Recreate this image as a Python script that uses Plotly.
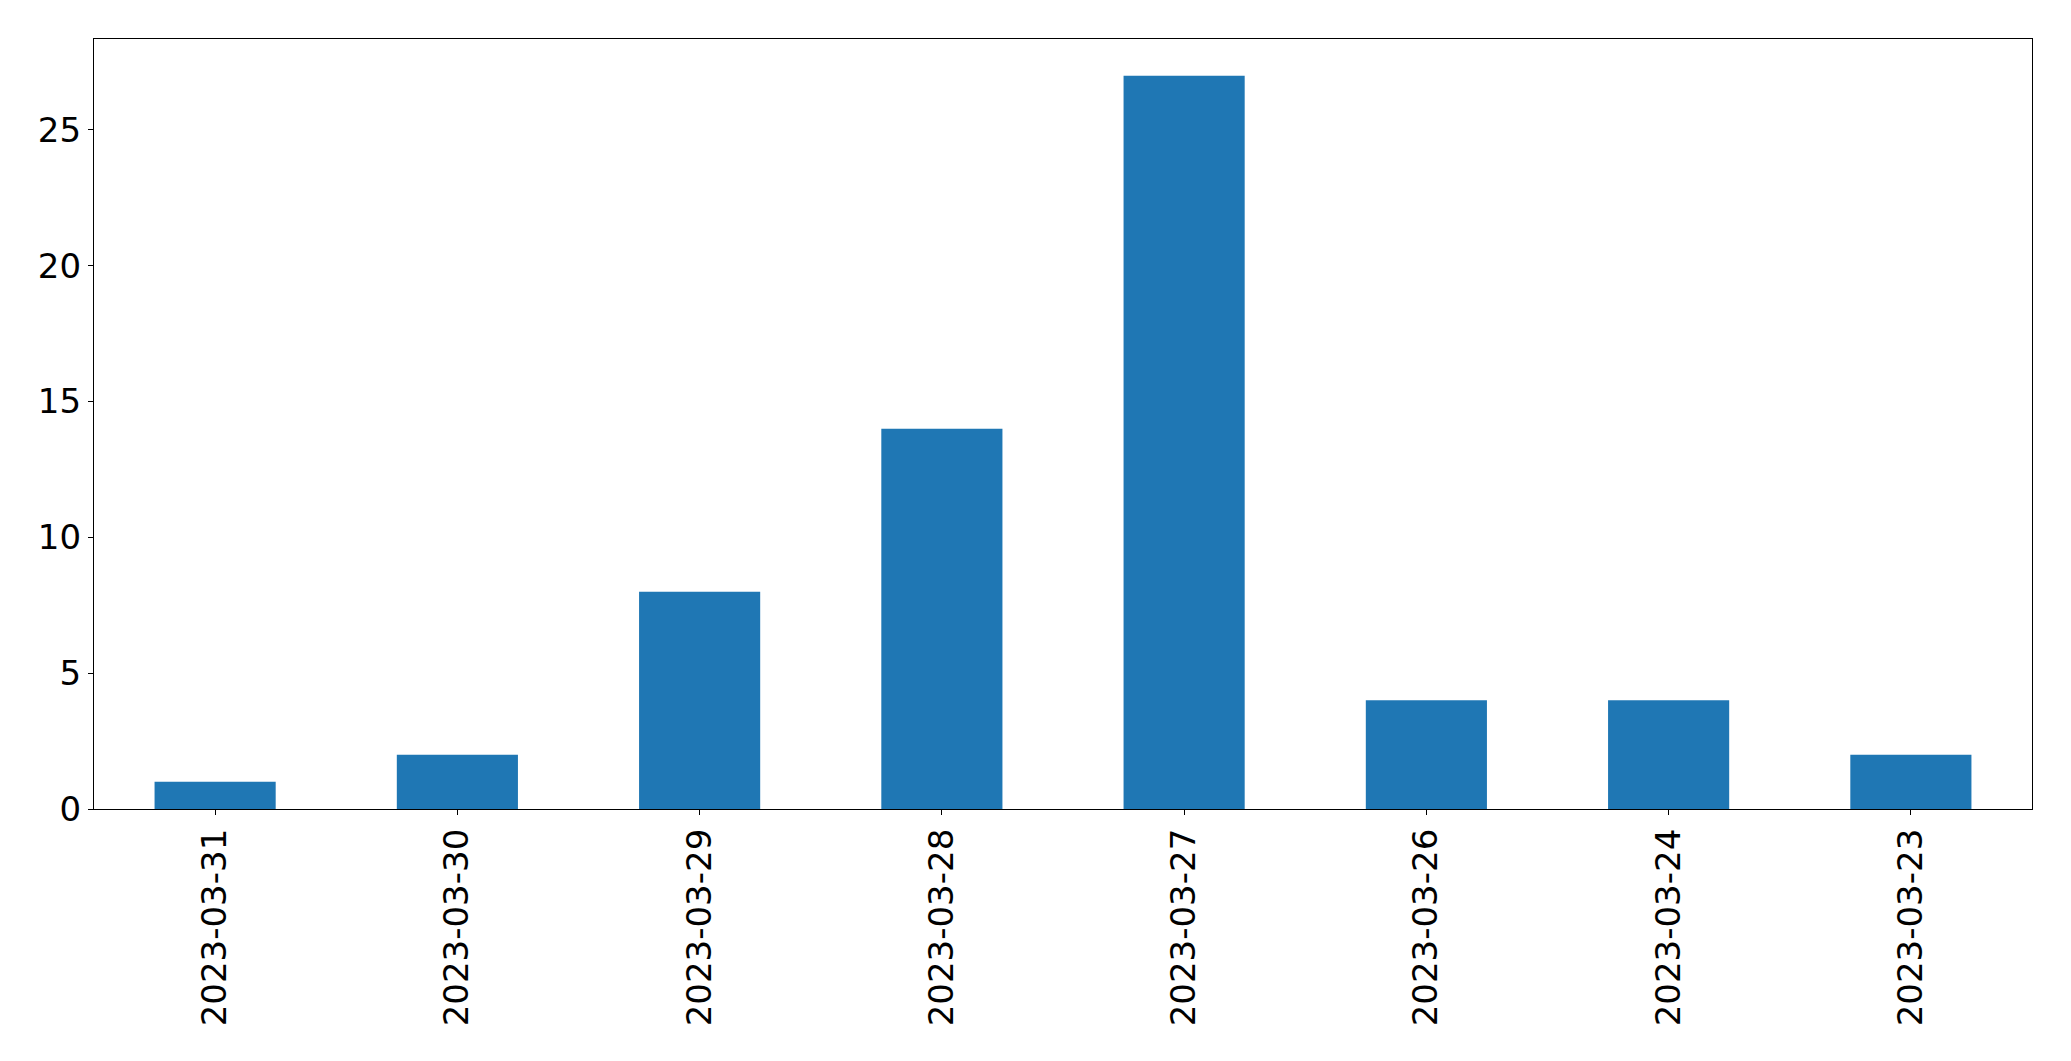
import plotly.graph_objects as go

dates = ["2023-03-31", "2023-03-30", "2023-03-29", "2023-03-28",
         "2023-03-27", "2023-03-26", "2023-03-24", "2023-03-23"]
counts = [1, 2, 8, 14, 27, 4, 4, 2]
y_ticks = [0, 5, 10, 15, 20, 25]

fig = go.Figure(go.Bar(x=dates, y=counts, width=0.5, marker_color="#1f77b4",
                       marker_line_width=0))

axis_common = dict(showline=True, mirror=True, linecolor="black", linewidth=1.3,
                   showgrid=False, zeroline=False, ticks="outside", ticklen=5,
                   tickwidth=1.3, tickcolor="black",
                   tickfont=dict(family="DejaVu Sans", size=34, color="black"))

# page body has an 8px margin, so the figure is placed at (8, 8)
fig.update_layout(
    width=2063, height=1053,
    margin=dict(l=86, r=39, t=31, b=252),
    paper_bgcolor="white", plot_bgcolor="white",
    showlegend=False,
    bargap=0.5,
    xaxis=dict(type="category", range=[-0.5, 7.5], tickangle=-90, **axis_common),
    yaxis=dict(range=[0, 28.35], tickvals=y_ticks, **axis_common),
)

fig.write_html("out.html")
